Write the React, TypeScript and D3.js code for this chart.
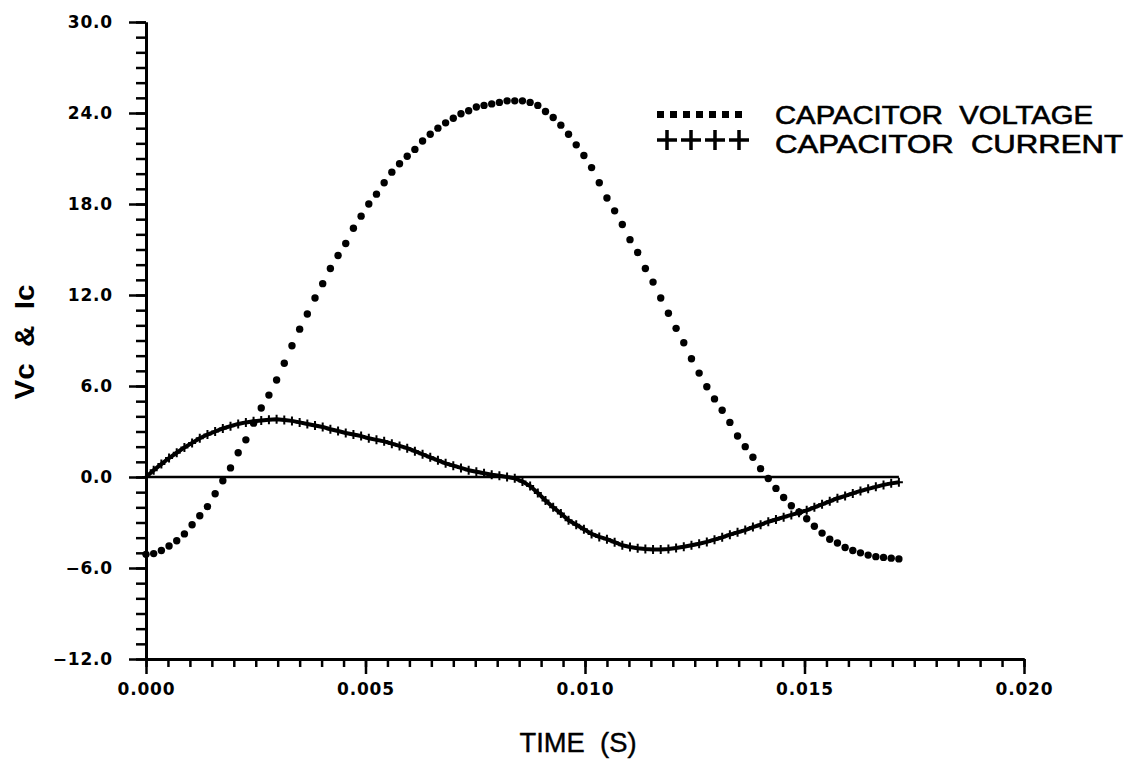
import { useEffect, useRef } from 'react';
import * as d3 from 'd3';

// sample times in ms (uniform solver step)
const TIME_MS = [
	0, 0.175, 0.35, 0.525, 0.7, 0.875, 1.05, 1.225, 1.4, 1.575, 1.75, 1.925, 2.1, 2.275, 2.45, 2.625, 2.8, 2.975,
	3.15, 3.325, 3.5, 3.675, 3.85, 4.025, 4.2, 4.375, 4.55, 4.725, 4.9, 5.075, 5.25, 5.425, 5.6, 5.775, 5.95,
	6.125, 6.3, 6.475, 6.65, 6.825, 7.0, 7.175, 7.35, 7.525, 7.7, 7.875, 8.05, 8.225, 8.4, 8.575, 8.75, 8.925,
	9.1, 9.275, 9.45, 9.625, 9.8, 9.975, 10.15, 10.325, 10.5, 10.675, 10.85, 11.025, 11.2, 11.375, 11.55,
	11.725, 11.9, 12.075, 12.25, 12.425, 12.6, 12.775, 12.95, 13.125, 13.3, 13.475, 13.65, 13.825, 14.0,
	14.175, 14.35, 14.525, 14.7, 14.875, 15.05, 15.225, 15.4, 15.575, 15.75, 15.925, 16.1, 16.275, 16.45,
	16.625, 16.8, 16.975, 17.15,
];

const VOLTAGE = [
	-5.1, -5.05, -4.85, -4.55, -4.2, -3.75, -3.15, -2.55, -1.95, -1.1,
	-0.25, 0.6, 1.6, 2.45, 3.55, 4.55, 5.4, 6.4, 7.5, 8.65,
	9.75, 10.75, 11.8, 12.75, 13.75, 14.6, 15.4, 16.4, 17.2, 18.0,
	18.65, 19.4, 20.1, 20.65, 21.15, 21.6, 22.15, 22.6, 23.0, 23.35,
	23.65, 23.95, 24.15, 24.4, 24.5, 24.6, 24.7, 24.8, 24.8, 24.8,
	24.7, 24.5, 24.1, 23.7, 23.2, 22.6, 21.9, 21.2, 20.4, 19.4,
	18.4, 17.55, 16.65, 15.65, 14.8, 13.75, 12.85, 11.8, 10.8, 9.8,
	8.85, 7.8, 6.85, 5.95, 5.15, 4.4, 3.6, 2.7, 2.0, 1.3,
	0.55, -0.1, -0.75, -1.35, -1.9, -2.3, -2.75, -3.25, -3.7, -4.1,
	-4.35, -4.65, -4.85, -5.0, -5.15, -5.25, -5.3, -5.35, -5.4,
];

const CURRENT = [
	0, 0.45, 0.85, 1.25, 1.6, 1.95, 2.25, 2.55, 2.8, 3.0,
	3.2, 3.35, 3.5, 3.6, 3.68, 3.73, 3.78, 3.8, 3.76, 3.7,
	3.6, 3.5, 3.4, 3.3, 3.15, 3.03, 2.9, 2.8, 2.7, 2.55,
	2.45, 2.35, 2.2, 2.05, 1.9, 1.7, 1.5, 1.3, 1.1, 0.9,
	0.75, 0.6, 0.45, 0.35, 0.25, 0.15, 0.08, 0.0, -0.08, -0.3,
	-0.6, -1.05, -1.55, -2.0, -2.4, -2.85, -3.15, -3.45, -3.75, -3.95,
	-4.1, -4.3, -4.5, -4.62, -4.7, -4.75, -4.78, -4.78, -4.75, -4.68,
	-4.6, -4.5, -4.4, -4.28, -4.13, -3.98, -3.8, -3.65, -3.5, -3.3,
	-3.15, -2.95, -2.8, -2.65, -2.5, -2.35, -2.2, -2.0, -1.8, -1.6,
	-1.4, -1.25, -1.08, -0.92, -0.78, -0.65, -0.52, -0.42, -0.35,
];

const X_TICKS = [0, 0.005, 0.01, 0.015, 0.02];
const Y_TICKS = [-12, -6, 0, 6, 12, 18, 24, 30];
const LEGEND_LABELS = ['CAPACITOR  VOLTAGE', 'CAPACITOR  CURRENT'];
const X_TITLE = 'TIME  (S)';
const Y_TITLE = 'Vc  &  Ic';

const App = () => {
	const ref = useRef<SVGSVGElement>(null);

	useEffect(() => {
		const margin = { top: 22, right: 109, bottom: 117, left: 146 },
			width = 1133 - margin.left - margin.right,
			height = 776 - margin.top - margin.bottom;

		const svg = d3.select(ref.current);
		svg.selectAll('*').remove();

		const x = d3.scaleLinear().domain([0, 0.02]).range([margin.left, margin.left + width]);
		const y = d3.scaleLinear().domain([-12, 30]).range([margin.top + height, margin.top]);

		const data = TIME_MS.map((t, i) => ({ t: t / 1000, v: VOLTAGE[i], c: CURRENT[i] }));

		const tickFont = (g) =>
			g
				.selectAll('text')
				.attr('font-family', 'DejaVu Sans')
				.attr('font-weight', 'bold')
				.attr('font-size', 17)
				.attr('letter-spacing', 0.8)
				.attr('fill', '#000');
		const strokeAxis = (g, w) => {
			g.selectAll('line').attr('stroke', '#000').attr('stroke-width', w);
			g.select('.domain').attr('stroke', '#000').attr('stroke-width', 3);
		};

		// y axis: minor ticks every 1, major every 6
		const yMinor = svg
			.append('g')
			.attr('transform', `translate(${margin.left},0)`)
			.call(d3.axisLeft(y).tickValues(d3.range(-12, 31, 1)).tickSize(10).tickSizeOuter(0).tickFormat(() => ''));
		strokeAxis(yMinor, 2.5);
		const yMajor = svg
			.append('g')
			.attr('transform', `translate(${margin.left},0)`)
			.call(
				d3
					.axisLeft(y)
					.tickValues(Y_TICKS)
					.tickSize(17)
					.tickSizeOuter(0)
					.tickPadding(16)
					.tickFormat((d) => d.toFixed(1).replace('-', '\u2212'))
			);
		strokeAxis(yMajor, 2.5);
		tickFont(yMajor);

		// x axis: minor ticks every 0.0005, major every 0.005
		const xMinor = svg
			.append('g')
			.attr('transform', `translate(0,${margin.top + height})`)
			.call(
				d3
					.axisBottom(x)
					.tickValues(d3.range(0, 41).map((i) => i * 0.0005))
					.tickSize(8)
					.tickSizeOuter(0)
					.tickFormat(() => '')
			);
		strokeAxis(xMinor, 2.5);
		const xMajor = svg
			.append('g')
			.attr('transform', `translate(0,${margin.top + height})`)
			.call(
				d3
					.axisBottom(x)
					.tickValues(X_TICKS)
					.tickSize(15)
					.tickSizeOuter(0)
					.tickPadding(9)
					.tickFormat((d) => d.toFixed(3))
			);
		strokeAxis(xMajor, 2.5);
		tickFont(xMajor);

		// zero reference line over the data span
		svg
			.append('line')
			.attr('x1', x(0))
			.attr('x2', x(data[data.length - 1].t))
			.attr('y1', y(0))
			.attr('y2', y(0))
			.attr('stroke', '#000')
			.attr('stroke-width', 2.5);

		// capacitor current: ++++ markers
		svg
			.append('path')
			.datum(data)
			.attr('fill', 'none')
			.attr('stroke', '#000')
			.attr('stroke-width', 4)
			.attr('stroke-linejoin', 'round')
			.attr(
				'd',
				d3
					.line()
					.x((d) => x(d.t))
					.y((d) => y(d.c))
			);
		svg
			.append('g')
			.selectAll('path')
			.data(data)
			.join('path')
			.attr('transform', (d) => `translate(${x(d.t)},${y(d.c)})`)
			.attr('d', 'M-4,0H4M0,-4.5V4.5')
			.attr('stroke', '#000')
			.attr('stroke-width', 2);

		// capacitor voltage: dot markers
		svg
			.append('g')
			.selectAll('circle')
			.data(data)
			.join('circle')
			.attr('cx', (d) => x(d.t))
			.attr('cy', (d) => y(d.v))
			.attr('r', 3.7)
			.attr('fill', '#000');

		// legend
		const legend = svg.append('g');
		legend
			.selectAll('rect')
			.data(d3.range(7))
			.join('rect')
			.attr('x', (i) => 657 + i * 13)
			.attr('y', 111)
			.attr('width', 7)
			.attr('height', 7)
			.attr('fill', '#000');
		legend
			.selectAll('path')
			.data(d3.range(4))
			.join('path')
			.attr('transform', (i) => `translate(${667 + i * 24},140)`)
			.attr('d', 'M-10,0H10M0,-10V10')
			.attr('stroke', '#000')
			.attr('stroke-width', 3.5);
		legend
			.selectAll('text')
			.data(LEGEND_LABELS)
			.join('text')
			.attr('x', 775)
			.attr('y', (d, i) => 124 + i * 29)
			.attr('textLength', (d, i) => (i === 0 ? 318 : 348))
			.attr('lengthAdjust', 'spacingAndGlyphs')
			.attr('font-family', 'Liberation Sans')
			.attr('font-size', 25)
			.attr('stroke', '#000')
			.attr('stroke-width', 0.6)
			.style('white-space', 'pre')
			.text((d) => d);

		// axis titles
		svg
			.append('text')
			.attr('x', 578)
			.attr('y', 752)
			.attr('text-anchor', 'middle')
			.attr('textLength', 117)
			.attr('lengthAdjust', 'spacingAndGlyphs')
			.attr('font-family', 'Liberation Sans')
			.attr('font-size', 27)
			.attr('stroke', '#000')
			.attr('stroke-width', 0.4)
			.style('white-space', 'pre')
			.text(X_TITLE);
		svg
			.append('text')
			.attr('transform', 'translate(34,342) rotate(-90)')
			.attr('text-anchor', 'middle')
			.attr('textLength', 115)
			.attr('lengthAdjust', 'spacingAndGlyphs')
			.attr('font-family', 'Liberation Sans')
			.attr('font-weight', 'bold')
			.attr('font-size', 27)
			.style('white-space', 'pre')
			.text(Y_TITLE);
	}, []);

	return (
		<svg
			ref={ref}
			width={1133}
			height={776}
			style={{ position: 'absolute', left: 0, top: 0, background: '#fff' }}
		/>
	);
};

export default App;
